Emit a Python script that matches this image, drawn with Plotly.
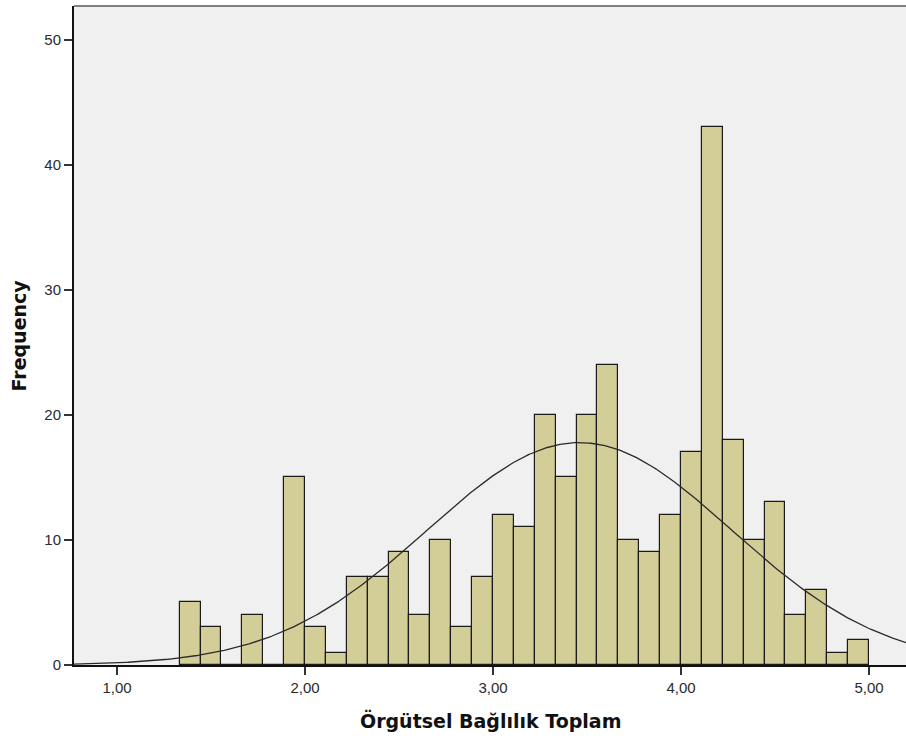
import numpy as np
import plotly.graph_objects as go

# Histogram of "Örgütsel Bağlılık Toplam": bins of width 1/9 starting at 1 + 3/9
bin_start = 1 + 3 / 9
bin_width = 1 / 9
counts = [5, 3, 0, 4, 0, 15, 3, 1, 7, 7, 9, 4, 10, 3, 7,
          12, 11, 20, 15, 20, 24, 10, 9, 12,
          17, 43, 18, 10, 13, 4, 6, 1, 2]

# Fitted normal curve parameters
mean_value = 3.46
std_dev = 0.81
n_total = sum(counts)

x_ticks = [1, 2, 3, 4, 5]
x_tick_text = ["1,00", "2,00", "3,00", "4,00", "5,00"]
y_ticks = [0, 10, 20, 30, 40, 50]

x_range = [0.771, 5.197]
y_range = [0, 52.7]

centers = [bin_start + (i + 0.5) * bin_width for i in range(len(counts))]

xs = np.linspace(x_range[0], x_range[1], 400)
density = (n_total * bin_width / (std_dev * np.sqrt(2 * np.pi))
           * np.exp(-0.5 * ((xs - mean_value) / std_dev) ** 2))

fig = go.Figure()
fig.add_trace(go.Bar(
    x=centers, y=counts, width=bin_width,
    marker=dict(color="#D3CE97", line=dict(color="#1a1a1a", width=1.2)),
    hoverinfo="x+y", showlegend=False,
))
fig.add_trace(go.Scatter(
    x=xs, y=density, mode="lines",
    line=dict(color="#2a2a2a", width=1.3),
    hoverinfo="skip", showlegend=False,
))

tick_font = dict(family="Liberation Sans, Arial, sans-serif", size=15, color="#2b2b2b")
title_font = dict(family="DejaVu Sans, Verdana, sans-serif", size=19, color="#111111")

fig.update_layout(
    width=906, height=740,
    margin=dict(l=74, r=0, t=6, b=75),
    paper_bgcolor="white",
    plot_bgcolor="#F0F0F0",
    bargap=0,
    xaxis=dict(
        range=x_range, tickvals=x_ticks, ticktext=x_tick_text,
        showgrid=False, zeroline=False,
        showline=True, linecolor="#111111", linewidth=2,
        ticks="outside", ticklen=8, tickwidth=2, tickcolor="#333333",
        tickfont=tick_font, fixedrange=True,
    ),
    yaxis=dict(
        range=y_range, tickvals=y_ticks,
        showgrid=False, zeroline=False,
        showline=True, linecolor="#111111", linewidth=2,
        ticks="outside", ticklen=8, tickwidth=2, tickcolor="#333333",
        tickfont=tick_font, fixedrange=True,
    ),
    shapes=[dict(type="line", xref="paper", yref="paper",
                 x0=0, x1=1, y0=1, y1=1,
                 line=dict(color="#808080", width=2))],
    annotations=[
        dict(text="<b>Örgütsel Bağlılık Toplam</b>", xref="paper", yref="paper",
             x=0.5, y=0, xanchor="center", yanchor="middle", yshift=-55,
             showarrow=False, font=title_font),
        dict(text="<b>Frequency</b>", xref="paper", yref="paper",
             x=0, y=0.5, xanchor="center", yanchor="middle", xshift=-56,
             textangle=-90, showarrow=False, font=title_font),
    ],
)

fig.write_html("out.html")
